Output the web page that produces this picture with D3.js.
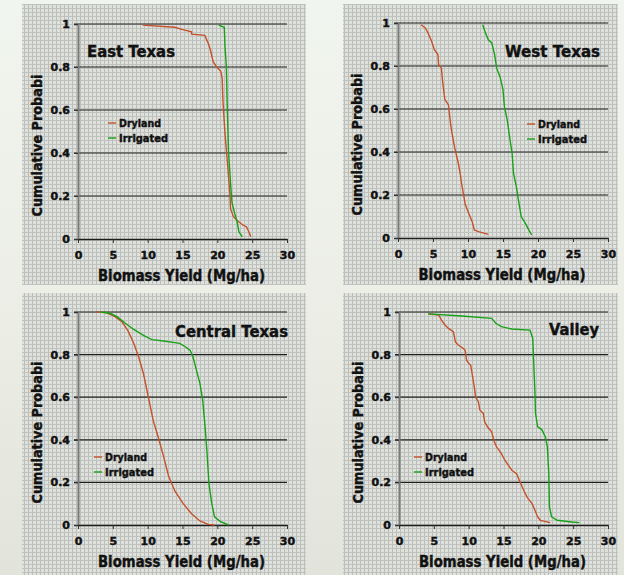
<!DOCTYPE html>
<html>
<head>
<meta charset="utf-8">
<script src="https://cdn.jsdelivr.net/npm/d3@7"></script>
<style>
  html, body { margin: 0; padding: 0; background: #eef1ea; }
  svg { display: block; }
  text { font-family: "DejaVu Sans", Verdana, sans-serif; font-weight: bold; fill: #111; }
  .heavy { stroke: #111; stroke-width: 0.45px; }
</style>
</head>
<body>
<div id="chart"></div>
<script>
// cumulative probability curves, [yield Mg/ha, cumulative probability]
const xTicks = [0, 5, 10, 15, 20, 25, 30];
const yTicks = [0, 0.2, 0.4, 0.6, 0.8, 1];
const yTickLabels = ["0", "0.2", "0.4", "0.6", "0.8", "1"];
const seriesNames = ["Dryland", "Irrigated"];
const panelTitles = ["East Texas", "West Texas", "Central Texas", "Valley"];

const eastDryland = [[9.3,0.995],[13.9,0.985],[14.9,0.975],[16.3,0.964],[16.3,0.953],[18.2,0.947],[18.7,0.91],[19.0,0.88],[19.4,0.825],[19.9,0.80],[20.5,0.78],[20.7,0.747],[20.8,0.646],[21.1,0.49],[21.5,0.335],[21.8,0.21],[21.9,0.14],[22.3,0.105],[22.8,0.087],[23.7,0.064],[24.2,0.056],[24.6,0.028],[24.8,0.01]];
const eastIrrigated = [[20.2,0.995],[21.0,0.985],[21.1,0.894],[21.3,0.80],[21.4,0.646],[21.6,0.41],[21.9,0.258],[22.1,0.17],[22.5,0.118],[22.8,0.087],[23.1,0.033],[23.6,0.01]];

const westDryland = [[3.3,0.992],[3.9,0.977],[4.3,0.953],[4.8,0.915],[5.2,0.876],[5.7,0.853],[5.8,0.806],[6.2,0.79],[6.4,0.72],[6.7,0.643],[7.2,0.62],[7.5,0.534],[7.7,0.49],[8.1,0.42],[8.6,0.35],[8.9,0.297],[9.1,0.25],[9.4,0.196],[9.6,0.157],[10.1,0.115],[10.6,0.076],[10.9,0.037],[11.5,0.03],[12.9,0.017]];
const westIrrigated = [[12.1,0.992],[12.5,0.953],[12.9,0.922],[13.4,0.907],[13.8,0.853],[14.1,0.79],[14.6,0.747],[15.0,0.69],[15.2,0.612],[15.6,0.55],[16.0,0.457],[16.3,0.395],[16.5,0.30],[16.9,0.24],[17.2,0.177],[17.6,0.1],[18.2,0.068],[18.7,0.037],[19.1,0.014]];

const centralDryland = [[2.7,1.0],[4.1,0.997],[5.3,0.978],[6.3,0.955],[7.2,0.91],[8.0,0.853],[8.7,0.79],[9.4,0.71],[10.1,0.60],[10.8,0.49],[11.5,0.414],[12.3,0.32],[13.0,0.23],[13.9,0.16],[15.1,0.10],[16.3,0.053],[17.5,0.019],[18.7,0.003],[19.6,0.0]];
const centralIrrigated = [[3.2,1.0],[4.6,0.994],[5.6,0.978],[6.8,0.947],[8.0,0.918],[9.4,0.89],[10.6,0.87],[12.3,0.864],[14.6,0.853],[15.4,0.837],[16.1,0.82],[16.5,0.79],[17.0,0.727],[17.5,0.665],[17.9,0.586],[18.2,0.476],[18.5,0.35],[18.8,0.194],[19.2,0.10],[19.6,0.038],[20.4,0.017],[21.6,0.0]];

const valleyDryland = [[4.2,0.991],[5.7,0.986],[6.1,0.962],[6.6,0.939],[7.1,0.923],[7.8,0.908],[8.1,0.86],[8.5,0.845],[9.2,0.83],[9.5,0.82],[9.7,0.774],[10.0,0.759],[10.3,0.75],[10.5,0.71],[10.8,0.65],[11.0,0.60],[11.4,0.578],[11.6,0.54],[12.1,0.524],[12.3,0.484],[12.7,0.461],[13.3,0.437],[13.6,0.398],[14.0,0.367],[14.3,0.354],[14.7,0.335],[15.2,0.304],[15.7,0.28],[16.2,0.257],[16.9,0.24],[17.4,0.20],[17.9,0.163],[18.4,0.13],[19.1,0.10],[19.5,0.07],[19.9,0.038],[20.3,0.022],[21.7,0.011]];
const valleyIrrigated = [[4.2,0.991],[9.0,0.981],[13.3,0.97],[13.9,0.947],[14.7,0.931],[16.2,0.92],[18.8,0.915],[19.2,0.876],[19.3,0.79],[19.5,0.633],[19.6,0.524],[19.9,0.461],[20.5,0.448],[21.0,0.414],[21.3,0.367],[21.5,0.241],[21.6,0.085],[21.9,0.038],[22.7,0.022],[24.8,0.014],[25.9,0.011]];

const panelData = [
  [eastDryland, eastIrrigated],
  [westDryland, westIrrigated],
  [centralDryland, centralIrrigated],
  [valleyDryland, valleyIrrigated]
];

const colors = ["#c4522a", "#18a018"];

// layout of each panel (pixels)
const layouts = [
  { box: [22, 4, 306, 285],   x0: 78,  x1: 287, yTop: 24,  yBot: 239, title: [87, 57, 88],   legend: [108, 123] },
  { box: [343, 4, 618, 285],  x0: 398, x1: 608, yTop: 23,  yBot: 238, title: [505, 57, 95],  legend: [527, 124] },
  { box: [22, 293, 306, 575], x0: 78,  x1: 287, yTop: 312, yBot: 525, title: [175, 337, 113], legend: [94, 457] },
  { box: [343, 293, 618, 575],x0: 399, x1: 608, yTop: 312, yBot: 525, title: [549, 335, 50],  legend: [414, 457] }
];

const W = 624, H = 575;
const svg = d3.select("#chart").append("svg").attr("width", W).attr("height", H);

const defs = svg.append("defs");
const bg = defs.append("linearGradient").attr("id", "pageBg").attr("x1", 0).attr("y1", 0).attr("x2", 0).attr("y2", 1);
bg.append("stop").attr("offset", "0%").attr("stop-color", "#f1f5ef");
bg.append("stop").attr("offset", "55%").attr("stop-color", "#eceee6");
bg.append("stop").attr("offset", "100%").attr("stop-color", "#e2e4dc");

const pat = defs.append("pattern").attr("id", "mesh").attr("patternUnits", "userSpaceOnUse")
  .attr("width", 4).attr("height", 4);
pat.append("rect").attr("width", 4).attr("height", 4).attr("fill", "#dfe1dd");
pat.append("rect").attr("x", 0).attr("y", 0).attr("width", 1).attr("height", 4).attr("fill", "#babdb9");
pat.append("rect").attr("x", 0).attr("y", 0).attr("width", 4).attr("height", 1).attr("fill", "#bfc2be");

svg.append("rect").attr("width", W).attr("height", H).attr("fill", "url(#pageBg)");

layouts.forEach((L, i) => {
  const g = svg.append("g");
  const [bx0, by0, bx1, by1] = L.box;
  g.append("rect").attr("x", bx0).attr("y", by0).attr("width", bx1 - bx0).attr("height", by1 - by0)
    .attr("fill", "url(#mesh)");

  const x = d3.scaleLinear().domain([0, 30]).range([L.x0, L.x1]);
  const y = d3.scaleLinear().domain([0, 1]).range([L.yBot, L.yTop]);

  // horizontal gridlines
  g.selectAll(".grid").data(yTicks.filter(d => d > 0)).join("line")
    .attr("x1", L.x0 - 4).attr("x2", L.x1)
    .attr("y1", d => y(d)).attr("y2", d => y(d))
    .attr("stroke", "#1e1e1e").attr("stroke-width", 1.2);

  // y axis
  const yAxis = g.append("g").attr("transform", `translate(${L.x0},0)`)
    .call(d3.axisLeft(y).tickValues(yTicks).tickSize(4).tickPadding(4)
      .tickFormat((d, k) => yTickLabels[k]));
  yAxis.select(".domain").attr("stroke", "#7a7a7a").attr("stroke-width", 2);
  yAxis.selectAll(".tick line").attr("stroke", "#333");
  yAxis.selectAll("text").attr("class", "heavy").style("font-size", "11px").style("font-family", "DejaVu Sans").style("font-weight", "bold").attr("fill", "#111");

  // x axis
  const xAxis = g.append("g").attr("transform", `translate(0,${L.yBot})`)
    .call(d3.axisBottom(x).tickValues(xTicks).tickSize(4).tickPadding(8).tickSizeOuter(0));
  xAxis.select(".domain").attr("stroke", "#1e1e1e").attr("stroke-width", 1.3);
  xAxis.selectAll(".tick line").attr("stroke", "#333");
  xAxis.selectAll("text").attr("class", "heavy").style("font-size", "11px").style("font-family", "DejaVu Sans").style("font-weight", "bold").attr("fill", "#111");

  // axis titles
  g.append("text").attr("class", "heavy")
    .attr("x", (L.x0 + L.x1) / 2 - 1).attr("y", L.yBot + 42)
    .attr("text-anchor", "middle").style("font-size", "15.5px")
    .attr("textLength", 167).attr("lengthAdjust", "spacingAndGlyphs")
    .text("Biomass Yield (Mg/ha)");

  g.append("text").attr("class", "heavy")
    .attr("transform", `translate(${L.x0 - 36},${(L.yTop + L.yBot) / 2 + 14}) rotate(-90)`)
    .attr("text-anchor", "middle").style("font-size", "14.5px")
    .attr("textLength", 142).attr("lengthAdjust", "spacingAndGlyphs")
    .text("Cumulative Probabi");

  // curves
  const line = d3.line().x(d => x(d[0])).y(d => y(d[1]));
  panelData[i].forEach((s, k) => {
    g.append("path").datum(s).attr("d", line)
      .attr("fill", "none").attr("stroke", colors[k]).attr("stroke-width", 1.4);
  });

  // panel title
  g.append("text").attr("class", "heavy").attr("x", L.title[0]).attr("y", L.title[1])
    .style("font-size", "16.5px").attr("textLength", L.title[2]).attr("lengthAdjust", "spacingAndGlyphs")
    .text(panelTitles[i]);

  // legend
  seriesNames.forEach((name, k) => {
    const ly = L.legend[1] + k * 15;
    g.append("line").attr("x1", L.legend[0]).attr("x2", L.legend[0] + 8)
      .attr("y1", ly).attr("y2", ly).attr("stroke", colors[k]).attr("stroke-width", 1.4);
    g.append("text").attr("class", "heavy").attr("x", L.legend[0] + 11).attr("y", ly + 4)
      .style("font-size", "11px").attr("textLength", k === 0 ? 42 : 49).attr("lengthAdjust", "spacingAndGlyphs")
      .text(name);
  });
});
</script>
</body>
</html>
